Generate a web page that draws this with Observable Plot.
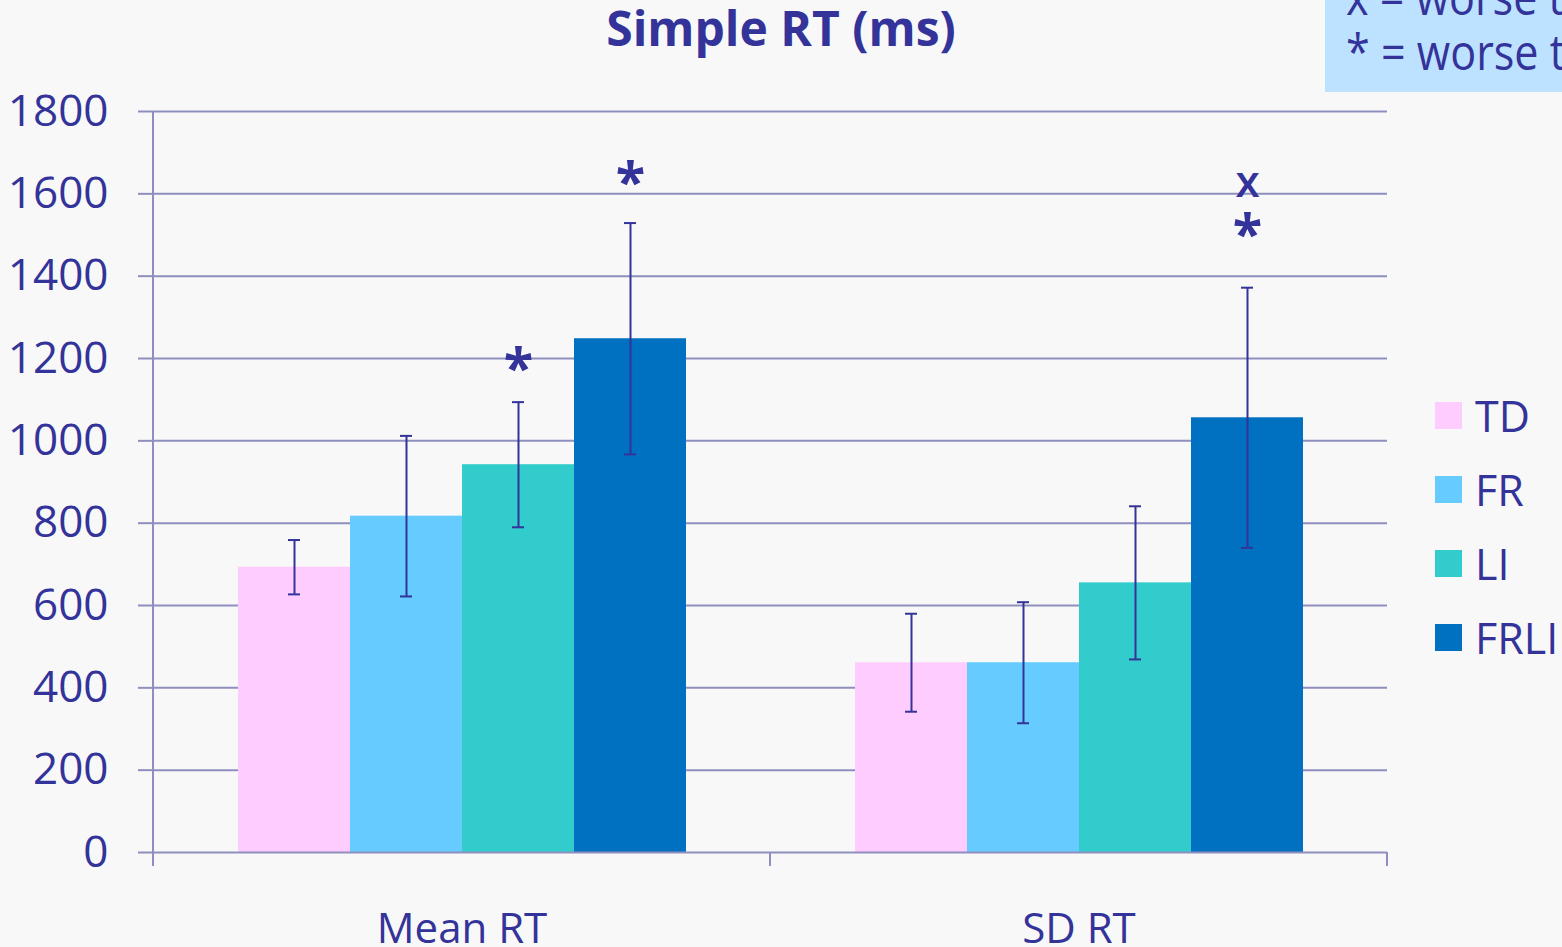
<!DOCTYPE html>
<html>
<head>
<meta charset="utf-8">
<script src="https://cdn.jsdelivr.net/npm/d3@7"></script>
<script src="https://cdn.jsdelivr.net/npm/@observablehq/plot@0.6"></script>
<style>
  html, body { margin: 0; padding: 0; background: #f8f8f8; overflow: hidden; }
  #wrap { position: relative; width: 1562px; height: 947px; overflow: hidden;
          font-family: "Open Sans", sans-serif; color: #333399; }
  #chart { position: absolute; left: 0; top: 0; }
  #title { position: absolute; left: 0; top: 0; width: 1562px; text-align: center;
           font-weight: bold; font-size: 48px; line-height: 56px; white-space: nowrap; }
  #note { position: absolute; left: 1325px; top: 0; width: 300px; height: 92px;
          background: #bde2ff; overflow: hidden; }
  #note .lines { position: absolute; left: 21px; top: -31px; font-size: 49px;
                 line-height: 55px; white-space: nowrap; transform: scaleX(0.88); transform-origin: 0 0; }
  #legend { position: absolute; left: 1435px; top: 378px; }
  #legend .item { display: flex; align-items: center; height: 74px; font-size: 43px; line-height: 1; }
  #legend .sw { width: 27px; height: 27px; margin-right: 13px; }
</style>
</head>
<body>
<div id="wrap">
  <div id="chart"></div>
  <div id="title">Simple RT (ms)</div>
  <div id="note"><div class="lines"><div>x = worse than</div><div>* = worse than</div></div></div>
  <div id="legend"></div>
</div>
<script>
// Groups on the category axis and the four participant groups
const groups = ["Mean RT", "SD RT"];
const series = ["TD", "FR", "LI", "FRLI"];
const colors = ["#ffccff", "#66ccff", "#33cccc", "#0070c0"];

// Bar heights (ms) and error-bar half widths (ms), in series order
const meanRT = [693, 817, 942, 1248];
const meanRTErr = [66, 195, 152, 281];
const sdRT = [461, 461, 655, 1056];
const sdRTErr = [119, 147, 186, 316];

// Y axis ticks
const yTicks = [0, 200, 400, 600, 800, 1000, 1200, 1400, 1600, 1800];

// Significance markers above bars
const markGroup = ["Mean RT", "Mean RT", "SD RT", "SD RT"];
const markSeries = ["LI", "FRLI", "FRLI", "FRLI"];
const markLabel = ["*", "*", "*", "x"];
const markY = [1201, 1653, 1527, 1621];

const textColor = "#333399";
const gridColor = "#8f8fbf";

const rows = [];
groups.forEach((g, gi) => series.forEach((s, si) => {
  const v = gi === 0 ? meanRT[si] : sdRT[si];
  const e = gi === 0 ? meanRTErr[si] : sdRTErr[si];
  rows.push({group: g, series: s, value: v, lo: v - e, hi: v + e});
}));
const marks = markLabel.map((label, i) => ({group: markGroup[i], series: markSeries[i], label, y: markY[i]}));

const chart = Plot.plot({
  width: 1562,
  height: 947,
  marginLeft: 152,
  marginRight: 175,
  marginTop: 111,
  marginBottom: 95,
  style: {background: "transparent", fontFamily: "'Open Sans', sans-serif", color: textColor, overflow: "visible"},
  fx: {domain: groups, padding: 0, label: null},
  x: {domain: series, paddingInner: 0, paddingOuter: 0.75, axis: null},
  y: {domain: [0, 1800], label: null},
  color: {domain: series, range: colors},
  marks: [
    Plot.ruleY(yTicks.filter(t => t > 0), {stroke: gridColor, strokeWidth: 2}),
    Plot.axisY({ticks: yTicks, tickSize: 15, tickPadding: 30, fontSize: 44, stroke: gridColor,
                strokeWidth: 2, strokeOpacity: 1, fill: textColor, tickFormat: d => String(d), label: null}),
    Plot.axisFx({anchor: "bottom", tickSize: 0, tickPadding: 61, fontSize: 42, fill: textColor, label: null}),
    Plot.barY(rows, {fx: "group", x: "series", y: "value", fill: "series"}),
    Plot.ruleY([0], {stroke: gridColor, strokeWidth: 2}),
    Plot.ruleX(rows, {fx: "group", x: "series", y1: "lo", y2: "hi", stroke: textColor, strokeWidth: 2}),
    Plot.tickY(rows, {fx: "group", x: "series", y: "hi", insetLeft: 50, insetRight: 50, stroke: textColor, strokeWidth: 2}),
    Plot.tickY(rows, {fx: "group", x: "series", y: "lo", insetLeft: 50, insetRight: 50, stroke: textColor, strokeWidth: 2}),
    Plot.text(marks.filter(d => d.label === "*"), {fx: "group", x: "series", y: "y", text: "label",
      fontSize: 54, fontWeight: "bold", fill: textColor, lineAnchor: "middle", dy: 12}),
    Plot.text(marks.filter(d => d.label !== "*"), {fx: "group", x: "series", y: "y", text: "label",
      fontSize: 44, fontWeight: 600, fill: textColor, lineAnchor: "middle", dy: -2})
  ]
});
document.getElementById("chart").append(chart);

// Axis line on the left and category boundary ticks below the baseline
const fxs = chart.scale("fx");
const ys = chart.scale("y");
const fxApply = fxs.apply || (d3.scaleBand(fxs.domain, fxs.range).padding(0));
const yApply = ys.apply || d3.scaleLinear(ys.domain, ys.range);
const bw = fxs.bandwidth != null ? fxs.bandwidth : (fxs.range[1] - fxs.range[0]) / groups.length;
const base = yApply(0);
const axisG = d3.select(chart).append("g").attr("stroke", gridColor).attr("stroke-width", 2);
const x0 = fxApply(groups[0]);
axisG.append("line").attr("x1", x0).attr("x2", x0).attr("y1", yApply(1800)).attr("y2", base + 14);
const edges = groups.map(g => fxApply(g) + bw);
edges.forEach(e => axisG.append("line").attr("x1", e).attr("x2", e).attr("y1", base).attr("y2", base + 14));

// Legend
const legend = d3.select("#legend");
series.forEach((s, i) => {
  const item = legend.append("div").attr("class", "item");
  item.append("div").attr("class", "sw").style("background", colors[i]);
  item.append("span").text(s);
});
</script>
</body>
</html>
